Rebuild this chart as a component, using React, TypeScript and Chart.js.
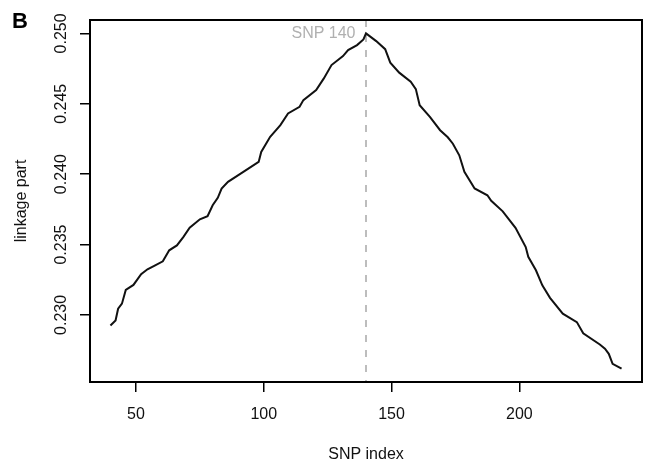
import React, { useEffect, useRef } from "react";
import { Chart, registerables } from "chart.js";
Chart.register(...registerables);

const snpIndex = [40, 42, 43, 44.5, 46, 49, 52, 54.5, 57.5, 60.5, 63, 66, 68.5, 71, 75, 78, 80, 82, 83.5, 86, 92, 98, 99, 102.5, 106.5, 109.5, 114, 115.5, 120.5, 123.5, 126.5, 131, 133, 136.5, 139, 140, 144, 147.5, 149.5, 153, 157.5, 159.5, 161, 165, 169, 172, 174, 176.5, 178.5, 182.5, 187.5, 189, 193.5, 198.5, 202.5, 203.5, 206.5, 209, 212, 217, 222.5, 225, 231.5, 233.5, 235, 236.5, 240];
const linkagePart = [0.22925, 0.22961, 0.23044, 0.2308, 0.23178, 0.23213, 0.2329, 0.23324, 0.23352, 0.23381, 0.23459, 0.23494, 0.23553, 0.23619, 0.23679, 0.23701, 0.23779, 0.23832, 0.23898, 0.23945, 0.24016, 0.24087, 0.24158, 0.24265, 0.24348, 0.24431, 0.24478, 0.24526, 0.24597, 0.2468, 0.24775, 0.24839, 0.24881, 0.24917, 0.24957, 0.25, 0.24945, 0.24888, 0.24792, 0.24721, 0.24656, 0.24604, 0.2449, 0.24407, 0.24312, 0.24262, 0.24216, 0.24134, 0.24016, 0.23898, 0.2385, 0.23811, 0.23736, 0.23619, 0.23482, 0.23413, 0.23317, 0.2321, 0.23121, 0.23009, 0.22949, 0.22869, 0.2279, 0.2276, 0.22724, 0.22653, 0.22618];

const xTicks = [50, 100, 150, 200];
const xTickLabels = ["50", "100", "150", "200"];
const yTicks = [0.23, 0.235, 0.24, 0.245, 0.25];
const yTickLabels = ["0.230", "0.235", "0.240", "0.245", "0.250"];
const peakSnp = 140;
const peakLabel = "SNP 140";
const xTitle = "SNP index";
const yTitle = "linkage part";
const panelLabel = "B";

const FONT = "'Liberation Sans', Arial, Helvetica, sans-serif";

const decorPlugin = {
  id: "decor",
  beforeDatasetsDraw(chart: any) {
    const { ctx, chartArea, scales } = chart;
    const px = scales.x.getPixelForValue(peakSnp);
    ctx.save();
    ctx.strokeStyle = "#a8a8a8";
    ctx.lineWidth = 1.5;
    ctx.setLineDash([7, 8]);
    ctx.beginPath();
    ctx.moveTo(px, chartArea.top);
    ctx.lineTo(px, chartArea.bottom);
    ctx.stroke();
    ctx.restore();
  },
  afterDraw(chart: any) {
    const { ctx, chartArea, scales } = chart;
    ctx.save();
    ctx.strokeStyle = "#000";
    ctx.lineWidth = 2;
    ctx.strokeRect(chartArea.left, chartArea.top, chartArea.right - chartArea.left, chartArea.bottom - chartArea.top);

    ctx.fillStyle = "#111";
    ctx.font = `16px ${FONT}`;
    ctx.textAlign = "center";
    ctx.textBaseline = "alphabetic";
    xTicks.forEach((v, i) => {
      ctx.fillText(xTickLabels[i], scales.x.getPixelForValue(v), 419);
    });
    yTicks.forEach((v, i) => {
      ctx.save();
      ctx.translate(65.5, scales.y.getPixelForValue(v));
      ctx.rotate(-Math.PI / 2);
      ctx.fillText(yTickLabels[i], 0, 0);
      ctx.restore();
    });
    ctx.fillText(xTitle, (chartArea.left + chartArea.right) / 2, 459);
    ctx.save();
    ctx.translate(25.5, (chartArea.top + chartArea.bottom) / 2);
    ctx.rotate(-Math.PI / 2);
    ctx.fillText(yTitle, 0, 0);
    ctx.restore();

    ctx.fillStyle = "#b0b0b0";
    ctx.textAlign = "right";
    ctx.fillText(peakLabel, scales.x.getPixelForValue(peakSnp) - 10.5, 37.5);

    ctx.fillStyle = "#000";
    ctx.textAlign = "left";
    ctx.font = `bold 22px ${FONT}`;
    ctx.fillText(panelLabel, 12, 28);
    ctx.restore();
  },
};

export default function App() {
  const ref = useRef<HTMLCanvasElement>(null);
  useEffect(() => {
    if (!ref.current) return;
    const chart = new Chart(ref.current, {
      type: "line",
      data: {
        datasets: [
          {
            data: snpIndex.map((x, i) => ({ x, y: linkagePart[i] })),
            borderColor: "#111",
            borderWidth: 2,
            pointRadius: 0,
            tension: 0,
            fill: false,
          },
        ],
      },
      options: {
        responsive: false,
        animation: false,
        layout: { padding: { top: 20, right: 4, left: 0, bottom: 0 } },
        plugins: { legend: { display: false }, tooltip: { enabled: false } },
        scales: {
          x: {
            type: "linear",
            min: 32,
            max: 248,
            afterBuildTicks: (s: any) => {
              s.ticks = xTicks.map((v) => ({ value: v }));
            },
            afterFit: (s: any) => {
              s.height = 83;
            },
            grid: { drawOnChartArea: false, drawTicks: true, tickLength: 10, color: "#000", lineWidth: 1.5 },
            border: { display: false },
            ticks: { display: false },
          },
          y: {
            type: "linear",
            min: 0.225235,
            max: 0.25095,
            afterBuildTicks: (s: any) => {
              s.ticks = yTicks.map((v) => ({ value: v }));
            },
            afterFit: (s: any) => {
              s.width = 90;
            },
            grid: { drawOnChartArea: false, drawTicks: true, tickLength: 10, color: "#000", lineWidth: 1.5 },
            border: { display: false },
            ticks: { display: false },
          },
        },
      },
      plugins: [decorPlugin],
    });
    return () => chart.destroy();
  }, []);
  return (
    <div style={{ position: "absolute", left: 0, top: 0, width: 646, height: 465, background: "#fff" }}>
      <canvas ref={ref} width={646} height={465} style={{ display: "block" }} />
    </div>
  );
}
